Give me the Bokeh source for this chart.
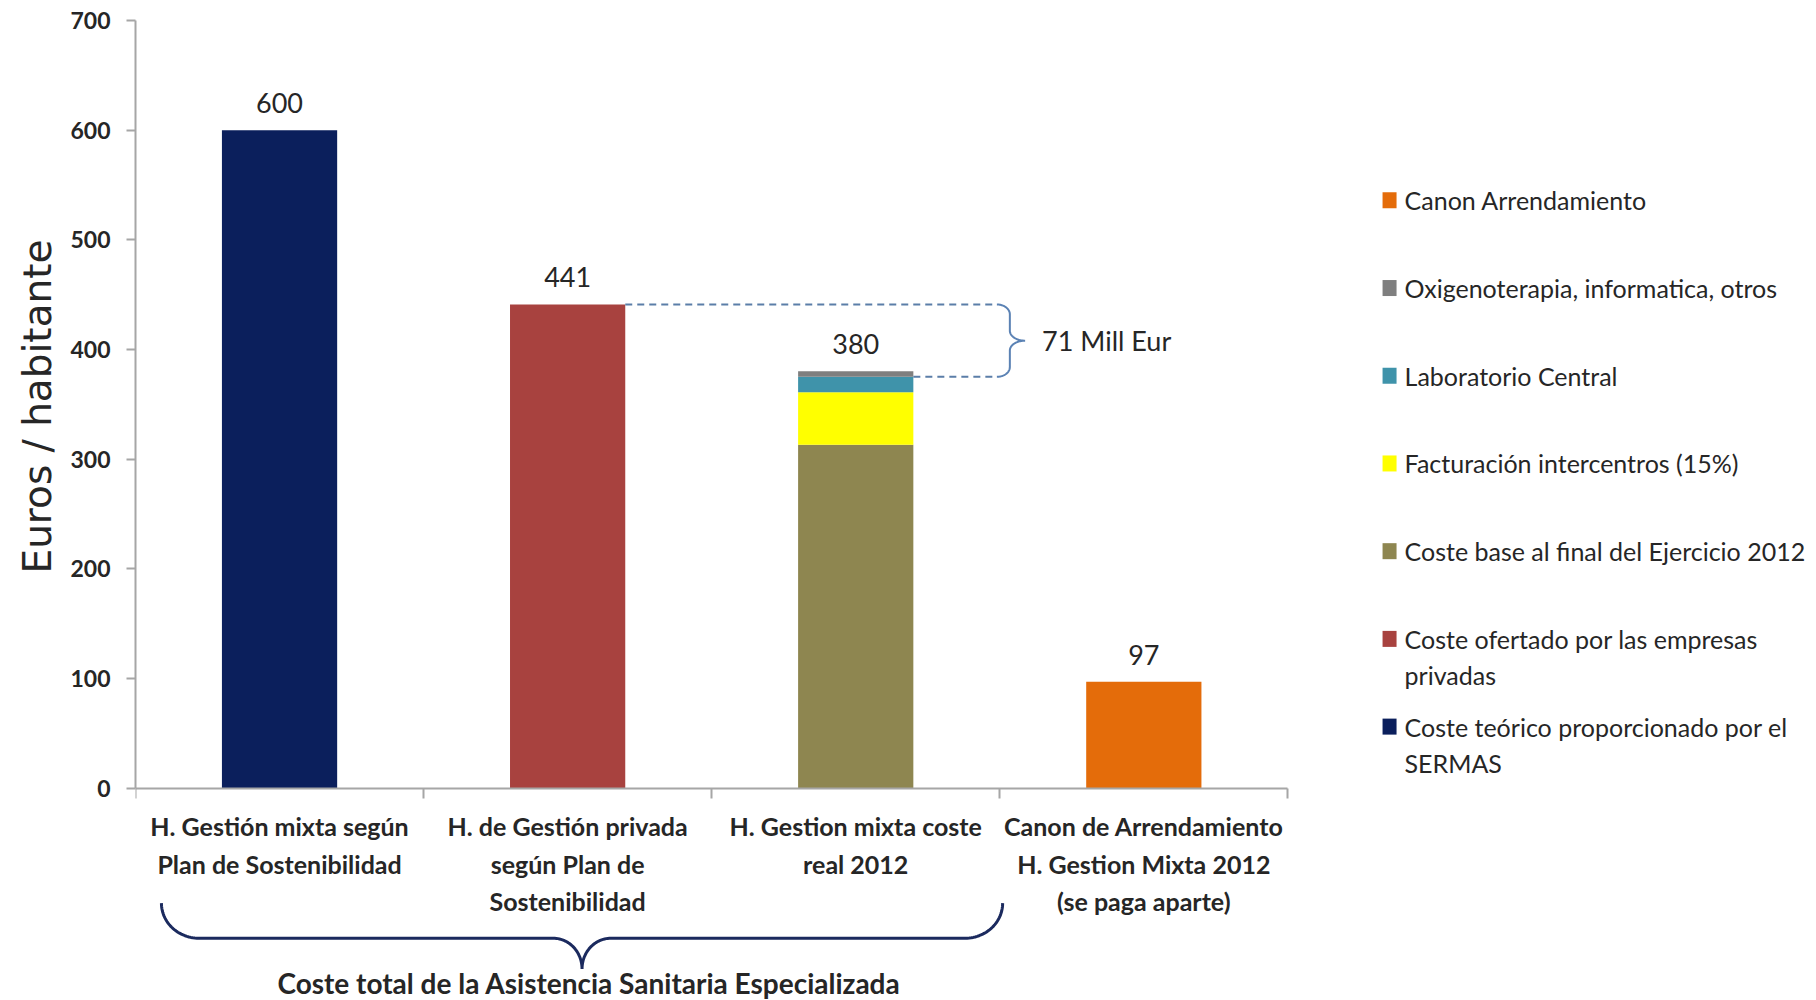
import numpy as np
from bokeh.plotting import figure
from bokeh.models import Range1d, FixedTicker, ColumnDataSource, Title
from bokeh.embed import file_html
from bokeh.resources import INLINE
from bokeh.core.properties import value

# ---------------- data ----------------
categories = [
    "H. Gestión mixta según\nPlan de Sostenibilidad",
    "H. de Gestión privada\nsegún Plan de\nSostenibilidad",
    "H. Gestion mixta coste\nreal 2012",
    "Canon de Arrendamiento\nH. Gestion Mixta 2012\n(se paga aparte)",
]
# stack order, bottom to top
series_keys = ["teorico", "ofertado", "base", "facturacion", "laboratorio", "otros", "canon"]
series_labels = [
    "Coste teórico proporcionado por el\nSERMAS",
    "Coste ofertado por las empresas\nprivadas",
    "Coste base al final del Ejercicio 2012",
    "Facturación intercentros (15%)",
    "Laboratorio Central",
    "Oxigenoterapia, informatica, otros",
    "Canon Arrendamiento",
]
teorico = [600, 0, 0, 0]
ofertado = [0, 441, 0, 0]
base = [0, 0, 313, 0]
facturacion = [0, 0, 48, 0]
laboratorio = [0, 0, 14, 0]
otros = [0, 0, 5, 0]
canon = [0, 0, 0, 97]
series_colors = ["#0B1F5C", "#A8423F", "#8E8650", "#FFFF00", "#3F93AA", "#7F7F7F", "#E46C0A"]
y_ticks = [0, 100, 200, 300, 400, 500, 600, 700]
y_label = "Euros / habitante"
gap_label = "71 Mill Eur"
group_label = "Coste total de la Asistencia Sanitaria Especializada"

# ---------------- helpers ----------------
FONT = "Lato"
TXT = "#262626"
BAR_W = 0.4

series = [teorico, ofertado, base, facturacion, laboratorio, otros, canon]
xs = [i + 0.5 for i in range(len(categories))]
data = {"x": xs}
for k, v in zip(series_keys, series):
    data[k] = v
src = ColumnDataSource(data)
totals = [int(sum(col)) for col in zip(*series)]


def brace(s0, s1, w0, w1, w2, ra, rb, n=30):
    sm = (s0 + s1) / 2.0
    t = np.linspace(0, np.pi / 2, n)
    s_a = s0 + ra - ra * np.cos(t)
    w_a = w0 + (w1 - w0) * np.sin(t)
    s_b = sm - rb + rb * np.sin(t)
    w_b = w2 + (w1 - w2) * np.cos(t)
    ls = np.concatenate([s_a, s_b])
    lw = np.concatenate([w_a, w_b])
    rs = (s0 + s1) - ls[::-1]
    rw = lw[::-1]
    return np.concatenate([ls, rs]), np.concatenate([lw, rw])


# ---------------- figure ----------------
p = figure(
    width=1816, height=1000,
    x_range=Range1d(0, 5.835), y_range=Range1d(-193.8, 700),
    output_backend="svg", toolbar_location=None,
    min_border_left=135, min_border_right=0, min_border_top=20, min_border_bottom=0,
)
p.outline_line_color = None
p.xgrid.visible = False
p.ygrid.visible = False
p.background_fill_color = "white"
p.border_fill_color = "white"

# bars
p.vbar_stack(series_keys, x="x", width=BAR_W, color=series_colors, line_color=None, source=src)

# value labels
p.text(x=xs, y=totals, text=[str(t) for t in totals],
       text_font=value(FONT), text_font_size="27px", text_color=TXT,
       text_align="center", text_baseline="middle", y_offset=-27)

# y axis
ya = p.yaxis[0]
ya.bounds = (0, 700)
ya.ticker = FixedTicker(ticks=y_ticks)
ya.axis_line_color = "#A6A6A6"
ya.axis_line_width = 2
ya.major_tick_line_color = "#A6A6A6"
ya.major_tick_line_width = 2
ya.major_tick_out = 9
ya.major_tick_in = 0
ya.minor_tick_line_color = None
ya.major_label_standoff = 16
ya.major_label_text_font = FONT
ya.major_label_text_font_style = "bold"
ya.major_label_text_font_size = "23px"
ya.major_label_text_color = TXT

# y axis title, placed alongside the 0..700 span
p.add_layout(Title(text=y_label, align="left", offset=427, standoff=16,
                   text_font="DejaVu Sans", text_font_size="39px",
                   text_font_style="normal", text_color=TXT), "left")

# x axis at y = 0
xa = p.xaxis[0]
xa.fixed_location = 0
xa.bounds = (0, len(categories))
xa.ticker = FixedTicker(ticks=xs, minor_ticks=list(range(len(categories) + 1)))
xa.major_label_overrides = {x: c for x, c in zip(xs, categories)}
xa.axis_line_color = "#A6A6A6"
xa.axis_line_width = 2
xa.major_tick_line_color = None
xa.major_tick_out = 0
xa.major_tick_in = 0
xa.minor_tick_line_color = "#A6A6A6"
xa.minor_tick_line_width = 2
xa.minor_tick_out = 10
xa.minor_tick_in = 0
xa.major_label_standoff = 13
xa.major_label_text_font = FONT
xa.major_label_text_font_style = "bold"
xa.major_label_text_font_size = "25px"
xa.major_label_text_line_height = 1.25
xa.major_label_text_color = TXT

# dashed difference lines + brace
lab_top = base[2] + facturacion[2] + laboratorio[2]
brace_w0, brace_w1, brace_w2 = 2.99, 3.035, 3.088
p.segment(x0=[xs[1] + BAR_W / 2, xs[2] + BAR_W / 2], y0=[ofertado[1], lab_top],
          x1=[brace_w0, brace_w0], y1=[ofertado[1], lab_top],
          line_color="#5B7EA8", line_width=2, line_dash="7 5")
bs, bw = brace(lab_top, ofertado[1], brace_w0, brace_w1, brace_w2, 9, 9)
p.line(x=bw, y=bs, line_color="#5B82B4", line_width=2)
p.text(x=[brace_w2], y=[(lab_top + ofertado[1]) / 2], text=[gap_label],
       text_font=value(FONT), text_font_size="27px", text_color=TXT,
       text_align="left", text_baseline="middle", x_offset=17)

# bottom brace grouping first three categories
gs, gw = brace(0.09, 3.01, -105, -137, -165, 0.13, 0.10)
p.line(x=gs, y=gw, line_color="#1B2A5E", line_width=3)
p.text(x=[(0.09 + 3.01) / 2], y=[-177.5], text=[group_label],
       text_font=value(FONT), text_font_style="bold", text_font_size="28px",
       text_color=TXT, text_align="center", text_baseline="middle", x_offset=7)

# legend (top to bottom = reverse of stack order)
LEG_X = 4.353
LEG_TOP = 536
LEG_PITCH = 80
LINE_STEP = 33
leg_lx, leg_ly, leg_c = [], [], []
txt_x, txt_y, txt_t = [], [], []
for i, (lab, col) in enumerate(zip(series_labels[::-1], series_colors[::-1])):
    yc = LEG_TOP - i * LEG_PITCH
    leg_lx.append(LEG_X)
    leg_ly.append(yc)
    leg_c.append(col)
    for j, line in enumerate(lab.split("\n")):
        txt_x.append(LEG_X)
        txt_y.append(yc - j * LINE_STEP)
        txt_t.append(line)
p.rect(x=leg_lx, y=leg_ly, width=14, height=16, width_units="screen", height_units="screen",
       fill_color=leg_c, line_color=None)
p.text(x=txt_x, y=txt_y, text=txt_t, text_font=value(FONT), text_font_size="25px",
       text_color=TXT, text_align="left", text_baseline="middle", x_offset=15)

open("out.html", "w").write(file_html(p, INLINE))
